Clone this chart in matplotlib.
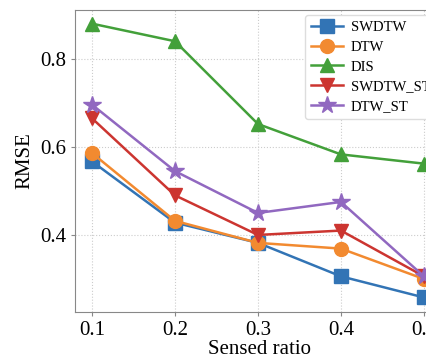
import numpy as np
import matplotlib
matplotlib.use("Agg")
import matplotlib.pyplot as plt

# sensed ratio vs RMSE for each method
ratio = [0.1, 0.2, 0.3, 0.4, 0.5]
swdtw = [0.567, 0.428, 0.382, 0.306, 0.258]
dtw = [0.586, 0.432, 0.382, 0.369, 0.300]
dis = [0.880, 0.840, 0.652, 0.583, 0.562]
swdtw_st = [0.665, 0.490, 0.400, 0.410, 0.306]
dtw_st = [0.696, 0.545, 0.450, 0.475, 0.306]

plt.rcParams['font.family'] = ['Liberation Serif', 'DejaVu Serif']

fig = plt.figure(figsize=(4.26, 3.57), dpi=100)
# axes run past the right edge of the figure
ax = fig.add_axes([75 / 426, 45 / 357, 368 / 426, 302 / 357])

series = [
    (swdtw, 'SWDTW', 's', '#3274b5'),
    (dtw, 'DTW', 'o', '#f28a30'),
    (dis, 'DIS', '^', '#43a03a'),
    (swdtw_st, 'SWDTW_ST', 'v', '#cc3530'),
    (dtw_st, 'DTW_ST', '*', '#9168c0'),
]
for vals, name, mk, col in series:
    ms = 13 if mk == '*' else 10
    ax.plot(ratio, vals, marker=mk, color=col, label=name, lw=1.8, ms=ms)

ax.set_xlim(0.0795, 0.523)
ax.set_ylim(0.225, 0.911)
ax.set_xticks([0.1, 0.2, 0.3, 0.4, 0.5])
ax.set_yticks([0.4, 0.6, 0.8])
ax.tick_params(labelsize=15, length=3, color='#888888')
ax.grid(True, ls=':', color='#cccccc', lw=0.8)
for s in ax.spines.values():
    s.set_color('#888888')

ax.set_xlabel('Sensed ratio', fontsize=15, labelpad=0)
ax.set_ylabel('RMSE', fontsize=15)

ax.legend(loc='upper left', bbox_to_anchor=(305 / 426, 1 - 15 / 357),
          bbox_transform=fig.transFigure, borderaxespad=0, fontsize=10.5,
          framealpha=1, edgecolor='#dddddd', borderpad=0.4, labelspacing=0.45,
          handlelength=2.2, handletextpad=0.55)

fig.savefig('out.png', dpi=100)
